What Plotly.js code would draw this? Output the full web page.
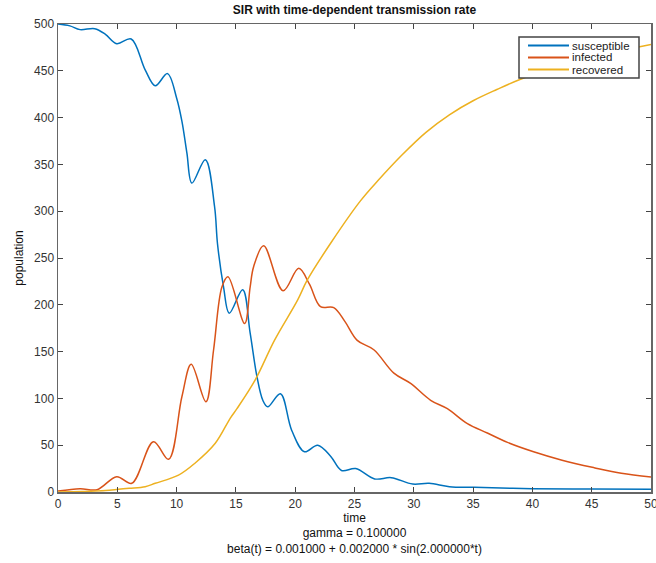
<!DOCTYPE html>
<html>
<head>
<meta charset="utf-8">
<script src="https://cdn.plot.ly/plotly-3.0.1.min.js"></script>
<style>html,body{margin:0;padding:0;background:#fff;}#chart{width:656px;height:563px;}</style>
</head>
<body>
<div id="chart"></div>
<script>
// Susceptible
var tS = [0, 1, 1.86, 3.1, 4.0, 4.95, 6.17, 7.35, 8.2, 9.23, 10.0, 10.45, 10.87, 11.29, 12.42, 13.2, 13.45, 13.96, 14.44, 15.57, 16.2, 16.78, 17.27, 17.68, 18.75, 19.7, 20.78, 21.9, 23.0, 23.9, 25.1, 26.7, 28.1, 29.9, 31.3, 33, 35.1, 40, 45, 50];
var S  = [500, 498, 494, 495, 489, 479, 484, 451, 434, 447, 421, 396, 362, 330, 355, 305, 265, 219, 191, 216, 170, 123, 98, 91, 105, 66, 43, 50, 38, 23, 25, 14, 15.3, 8.5, 9.3, 5.7, 5, 3.6, 3.2, 2.9];
// Infected
var tI = [0, 1.86, 3.3, 4.95, 6.22, 8.05, 9.32, 10.45, 11.23, 12.47, 13.12, 13.82, 14.33, 15.74, 16.2, 16.5, 17.34, 18.98, 20.3, 21.2, 22.13, 23.25, 24.2, 25.23, 26.63, 28.32, 29.73, 31.42, 32.83, 34.52, 36.2, 37.9, 40.1, 42.5, 45.2, 47.5, 50];
var I  = [1, 3.6, 2.5, 16.4, 9.3, 53.8, 34.9, 102, 136.4, 96.5, 152, 219, 230, 180, 219, 241, 263, 215, 239, 222, 198, 197, 182, 162, 152, 127, 116, 98, 89, 73, 63, 53, 43, 34, 26, 20, 16];
// Recovered
var tR = [0, 2, 4, 5.1, 6, 7.35, 8.2, 10.16, 11.57, 13.26, 14.53, 15.09, 16.64, 18.25, 20.2, 21, 23, 25.5, 27, 29, 31, 33, 35, 37, 39, 42, 45, 48, 50];
var R  = [0, 0.5, 1.5, 2.9, 4, 5.7, 9.3, 18, 31, 52, 79, 89, 120, 162, 205, 226, 266, 311, 333, 360, 384, 403, 418, 430, 441, 454, 465, 473, 478];

var seriesNames = ['susceptible', 'infected', 'recovered'];
var seriesColors = ['#0072BD', '#D95319', '#EDB120'];
var xTicks = [0, 5, 10, 15, 20, 25, 30, 35, 40, 45, 50];
var yTicks = [0, 50, 100, 150, 200, 250, 300, 350, 400, 450, 500];

var font = 'Liberation Sans, Arial, Helvetica, sans-serif';
function tr(x, y, i) {
  return {x: x, y: y, name: seriesNames[i], type: 'scatter', mode: 'lines',
          line: {color: seriesColors[i], width: 1.5, shape: 'spline', smoothing: 1}};
}
var data = [tr(tS, S, 0), tr(tI, I, 1), tr(tR, R, 2)];

// MATLAB-style compact legend box (top right, inside the axes)
var W = 593, H = 468; // plot size in px, to convert legend pixel offsets to paper units
function px(v) { return v / W; }
function py(v) { return v / H; }
var legX0 = 1 - px(12), legX1 = legX0 - px(120);
var legTop = 1 - py(13), legBot = legTop - py(41);
var shapes = [{type: 'rect', xref: 'paper', yref: 'paper', x0: legX1, x1: legX0, y0: legBot, y1: legTop,
               fillcolor: '#fff', line: {color: '#444', width: 1.5}, layer: 'above'}];
var annotations = [];
seriesNames.forEach(function (n, i) {
  var yy = legTop - py(8.5 + i * 12);
  shapes.push({type: 'line', xref: 'paper', yref: 'paper', x0: legX1 + px(9), x1: legX1 + px(50),
               y0: yy, y1: yy, line: {color: seriesColors[i], width: 2}, layer: 'above'});
  annotations.push({xref: 'paper', yref: 'paper', x: legX1 + px(52), y: yy, xanchor: 'left', yanchor: 'middle',
                    text: n, showarrow: false, borderpad: 0, font: {family: font, size: 11.5, color: '#222'}});
});

var axisCommon = {
  showgrid: false, zeroline: false, showline: true, mirror: 'ticks',
  linecolor: '#666', linewidth: 1.5, ticks: 'inside', ticklen: 5, tickwidth: 1,
  tickcolor: '#444', tickfont: {family: font, size: 12, color: '#333'}, ticklabeloverflow: 'allow'
};
var layout = {
  width: 656, height: 563,
  margin: {l: 58, r: 5, t: 24, b: 71},
  paper_bgcolor: '#fff', plot_bgcolor: '#fff',
  showlegend: false,
  shapes: shapes, annotations: annotations,
  title: {text: '<b>SIR with time-dependent transmission rate</b>', font: {family: font, size: 12, color: '#111'},
          x: 0.5, xref: 'paper', y: 0.982, yref: 'container', yanchor: 'middle'},
  xaxis: Object.assign({}, axisCommon, {range: [0, 50], tickvals: xTicks, ticktext: xTicks.map(String),
    title: {text: 'time<br>gamma = 0.100000<br>beta(t) = 0.001000 + 0.002000 * sin(2.000000*t)',
            font: {family: font, size: 12, color: '#111'}, standoff: 2}}),
  yaxis: Object.assign({}, axisCommon, {range: [0, 500], tickvals: yTicks, ticktext: yTicks.map(String),
    title: {text: 'population', font: {family: font, size: 12, color: '#111'}, standoff: 8}})
};
Plotly.newPlot('chart', data, layout, {displayModeBar: false, staticPlot: true});
</script>
</body>
</html>
